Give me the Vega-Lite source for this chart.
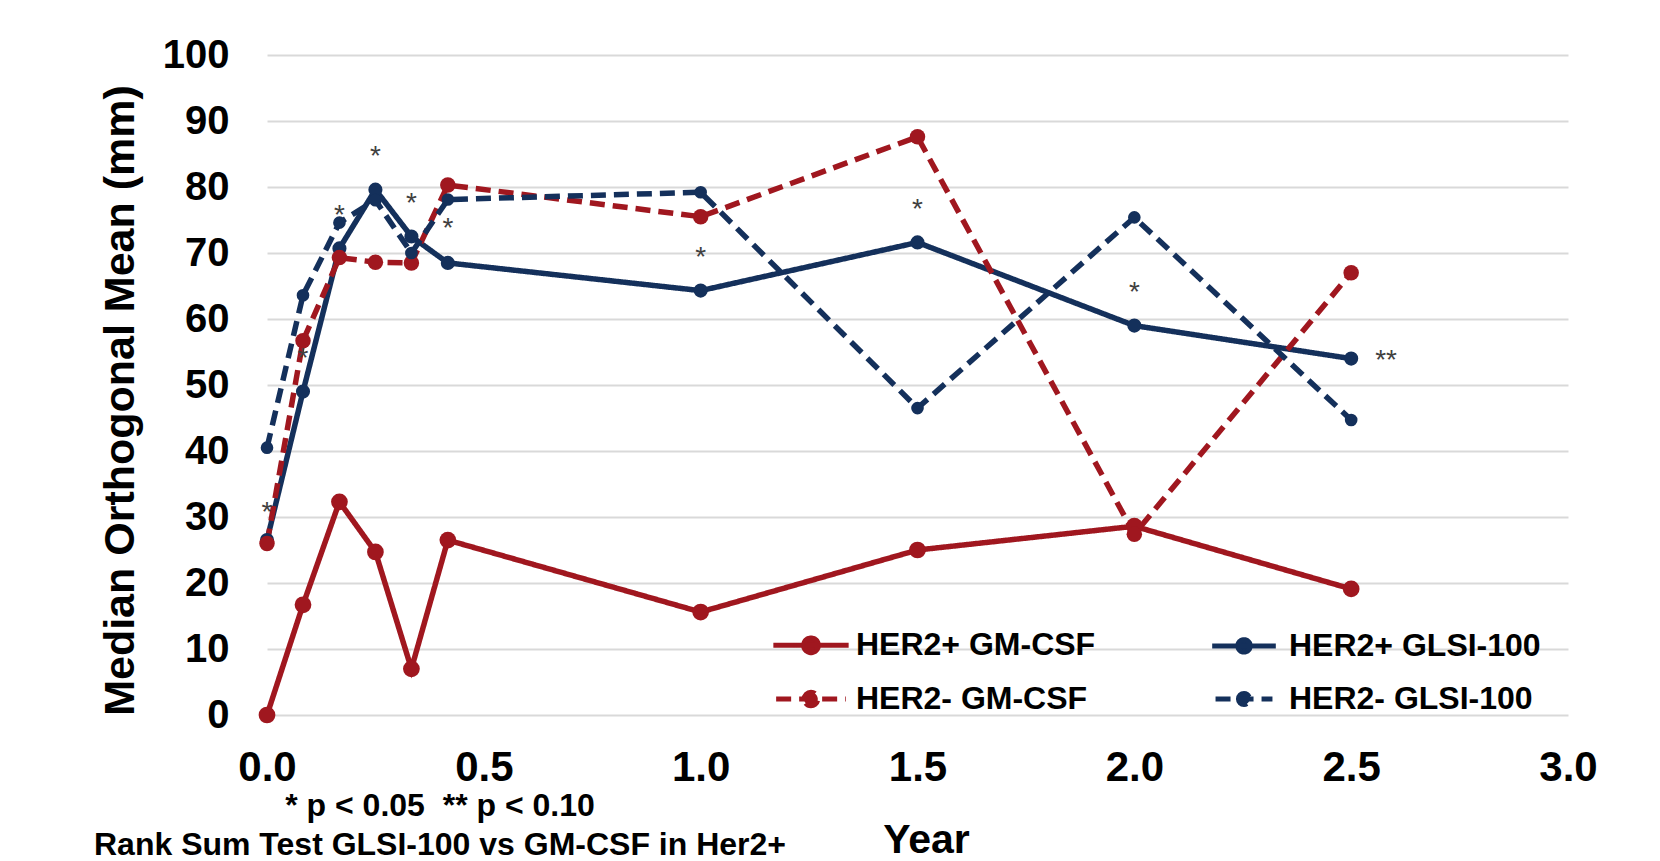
{
  "$schema": "https://vega.github.io/schema/vega-lite/v6.json",
  "width": 1301,
  "height": 660,
  "autosize": {"type": "none"},
  "padding": {"left": 267, "top": 55, "right": 92, "bottom": 146},
  "background": "white",
  "datasets": {
    "series": [
      {"series": "HER2+ GM-CSF", "year": 0, "value": 0},
      {"series": "HER2+ GM-CSF", "year": 0.083, "value": 16.7},
      {"series": "HER2+ GM-CSF", "year": 0.167, "value": 32.3},
      {"series": "HER2+ GM-CSF", "year": 0.25, "value": 24.7},
      {"series": "HER2+ GM-CSF", "year": 0.333, "value": 7.0},
      {"series": "HER2+ GM-CSF", "year": 0.417, "value": 26.5},
      {"series": "HER2+ GM-CSF", "year": 1.0, "value": 15.6},
      {"series": "HER2+ GM-CSF", "year": 1.5, "value": 25.0},
      {"series": "HER2+ GM-CSF", "year": 2.0, "value": 28.6},
      {"series": "HER2+ GM-CSF", "year": 2.5, "value": 19.1},
      {"series": "HER2+ GLSI-100", "year": 0, "value": 26.5},
      {"series": "HER2+ GLSI-100", "year": 0.083, "value": 49.0},
      {"series": "HER2+ GLSI-100", "year": 0.167, "value": 70.7},
      {"series": "HER2+ GLSI-100", "year": 0.25, "value": 79.6},
      {"series": "HER2+ GLSI-100", "year": 0.333, "value": 72.5},
      {"series": "HER2+ GLSI-100", "year": 0.417, "value": 68.5},
      {"series": "HER2+ GLSI-100", "year": 1.0, "value": 64.3},
      {"series": "HER2+ GLSI-100", "year": 1.5, "value": 71.6},
      {"series": "HER2+ GLSI-100", "year": 2.0, "value": 59.0},
      {"series": "HER2+ GLSI-100", "year": 2.5, "value": 54.0},
      {"series": "HER2- GM-CSF", "year": 0, "value": 26.0},
      {"series": "HER2- GM-CSF", "year": 0.083, "value": 56.7},
      {"series": "HER2- GM-CSF", "year": 0.167, "value": 69.3},
      {"series": "HER2- GM-CSF", "year": 0.25, "value": 68.6},
      {"series": "HER2- GM-CSF", "year": 0.333, "value": 68.5},
      {"series": "HER2- GM-CSF", "year": 0.417, "value": 80.3},
      {"series": "HER2- GM-CSF", "year": 1.0, "value": 75.5},
      {"series": "HER2- GM-CSF", "year": 1.5, "value": 87.6},
      {"series": "HER2- GM-CSF", "year": 2.0, "value": 27.4},
      {"series": "HER2- GM-CSF", "year": 2.5, "value": 67.0},
      {"series": "HER2- GLSI-100", "year": 0, "value": 40.5},
      {"series": "HER2- GLSI-100", "year": 0.083, "value": 63.6},
      {"series": "HER2- GLSI-100", "year": 0.167, "value": 74.6},
      {"series": "HER2- GLSI-100", "year": 0.25, "value": 78.0},
      {"series": "HER2- GLSI-100", "year": 0.333, "value": 70.0},
      {"series": "HER2- GLSI-100", "year": 0.417, "value": 78.1},
      {"series": "HER2- GLSI-100", "year": 1.0, "value": 79.2},
      {"series": "HER2- GLSI-100", "year": 1.5, "value": 46.5},
      {"series": "HER2- GLSI-100", "year": 2.0, "value": 75.4},
      {"series": "HER2- GLSI-100", "year": 2.5, "value": 44.7}
    ],
    "stars": [
      {"year": 0, "value": 31.8, "label": "*"},
      {"year": 0.083, "value": 55.1, "label": "*"},
      {"year": 0.167, "value": 76.8, "label": "*"},
      {"year": 0.25, "value": 85.7, "label": "*"},
      {"year": 0.333, "value": 78.6, "label": "*"},
      {"year": 0.417, "value": 74.9, "label": "*"},
      {"year": 1.0, "value": 70.4, "label": "*"},
      {"year": 1.5, "value": 77.7, "label": "*"},
      {"year": 2.0, "value": 65.1, "label": "*"},
      {"year": 2.5, "value": 54.8, "label": "**"}
    ]
  },
  "title": {
    "text": ["* p < 0.05 \u00a0** p < 0.10", "Rank Sum Test GLSI-100 vs GM-CSF in Her2+"],
    "orient": "bottom",
    "anchor": "start",
    "frame": "group",
    "align": "center",
    "dx": 173,
    "baseline": "top",
    "offset": -69,
    "fontSize": 32,
    "fontWeight": "bold",
    "color": "#000000",
    "lineHeight": 39,
    "font": "Liberation Sans"
  },
  "layer": [
    {
      "data": {"name": "series"},
      "mark": {"type": "line", "strokeWidth": 5.5, "strokeCap": "butt"},
      "encoding": {
        "x": {
          "field": "year", "type": "quantitative",
          "scale": {"domain": [0, 3], "nice": false},
          "axis": {
            "values": [0, 0.5, 1, 1.5, 2, 2.5, 3],
            "format": ".1f",
            "grid": false, "domain": false, "ticks": false,
            "labelFontSize": 42, "labelFontWeight": "bold", "labelColor": "#000000",
            "labelPadding": 32, "labelFlush": false,
            "title": "Year", "titleX": 659, "titleY": 137,
            "titleAlign": "center", "titleBaseline": "alphabetic",
            "titleFontSize": 41, "titleFontWeight": "bold", "titleColor": "#000000"
          }
        },
        "y": {
          "field": "value", "type": "quantitative",
          "scale": {"domain": [0, 100], "nice": false},
          "axis": {
            "values": [0, 10, 20, 30, 40, 50, 60, 70, 80, 90, 100],
            "grid": true, "gridColor": "#D9D9D9", "gridWidth": 2,
            "domain": false, "ticks": false,
            "labelFontSize": 40, "labelFontWeight": "bold", "labelColor": "#000000",
            "labelPadding": 38,
            "title": "Median Orthogonal Mean (mm)",
            "titleFontSize": 43, "titleFontWeight": "bold", "titleColor": "#000000",
            "titleX": -147, "titleY": 345, "titleAlign": "center", "titleBaseline": "middle", "titleAngle": -90
          }
        },
        "color": {
          "field": "series", "type": "nominal",
          "scale": {
            "domain": ["HER2+ GM-CSF", "HER2- GM-CSF", "HER2+ GLSI-100", "HER2- GLSI-100"],
            "range": ["#A0171F", "#A0171F", "#14305B", "#14305B"]
          },
          "legend": {
            "title": null,
            "orient": "none",
            "legendX": 528,
            "legendY": 574,
            "columns": 2,
            "columnPadding": 106,
            "rowPadding": 19,
            "padding": 0,
            "symbolType": "M-4.5,0L4.5,0M-0.88,0A0.88,0.88,0,1,1,0.88,0A0.88,0.88,0,1,1,-0.88,0Z",
            "symbolSize": 1024,
            "symbolStrokeWidth": 5,
            "labelOffset": 29,
            "labelLimit": 400,
            "labelFontSize": 32,
            "labelFontWeight": "bold",
            "labelColor": "#000000",
            "encode": {
              "symbols": {
                "update": {
                  "fill": {"scale": "color", "field": "value"},
                  "opacity": {"value": 1},
                  "strokeDash": {"signal": "indexof(datum.value, 'HER2-') === 0 ? [22, 28] : [1, 0]"}
                }
              }
            }
          }
        },
        "strokeDash": {
          "field": "series", "type": "nominal",
          "scale": {
            "domain": ["HER2+ GM-CSF", "HER2- GM-CSF", "HER2+ GLSI-100", "HER2- GLSI-100"],
            "range": [[1, 0], [15, 8], [1, 0], [15, 8]]
          }
        }
      }
    },
    {
      "data": {"name": "series"},
      "mark": {"type": "circle", "opacity": 1},
      "encoding": {
        "x": {"field": "year", "type": "quantitative"},
        "y": {"field": "value", "type": "quantitative"},
        "color": {"field": "series", "type": "nominal", "legend": null},
        "size": {
          "field": "series", "type": "nominal",
          "scale": {
            "domain": ["HER2+ GM-CSF", "HER2- GM-CSF", "HER2+ GLSI-100", "HER2- GLSI-100"],
            "range": [280, 160, 340, 340]
          },
          "legend": null
        }
      }
    },
    {
      "data": {"name": "stars"},
      "transform": [{"filter": "datum.label === '*'"}],
      "mark": {"type": "text", "fontSize": 28, "color": "#404040", "baseline": "alphabetic", "dy": 16, "align": "center"},
      "encoding": {
        "x": {"field": "year", "type": "quantitative"},
        "y": {"field": "value", "type": "quantitative"},
        "text": {"field": "label"}
      }
    },
    {
      "data": {"name": "stars"},
      "transform": [{"filter": "datum.label === '**'"}],
      "mark": {"type": "text", "fontSize": 28, "color": "#404040", "baseline": "alphabetic", "dy": 16, "dx": 24, "align": "left"},
      "encoding": {
        "x": {"field": "year", "type": "quantitative"},
        "y": {"field": "value", "type": "quantitative"},
        "text": {"field": "label"}
      }
    }
  ],
  "config": {
    "font": "Liberation Sans",
    "view": {"stroke": null}
  }
}
